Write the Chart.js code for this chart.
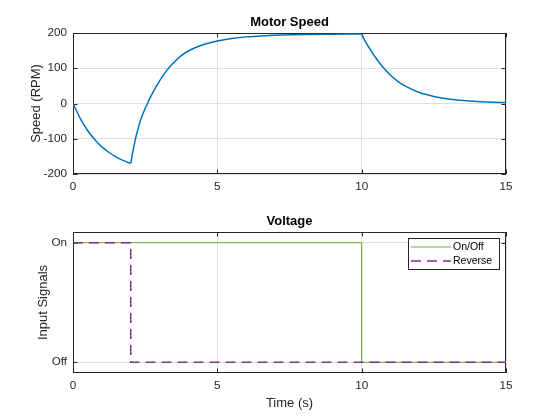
<!DOCTYPE html>
<html>
<head>
<meta charset="utf-8">
<script src="https://cdn.jsdelivr.net/npm/chart.js@4.4.0/dist/chart.umd.min.js"></script>
<style>
  html, body { margin: 0; padding: 0; background: #fff; }
  .panel { position: relative; width: 560px; height: 210px; }
</style>
</head>
<body>
<div class="panel"><canvas id="motorSpeed"></canvas></div>
<div class="panel"><canvas id="voltage"></canvas></div>
<script>
// motor speed (s, RPM)
const fallTime = [0, 0.25, 0.5, 0.75, 1, 1.25, 1.5, 1.75, 2];
const fallSpeed = [0, -42, -76, -102, -123, -139, -152, -162, -170];

const riseTime = [2, 2.1, 2.2, 2.35, 2.5, 2.75, 3, 3.25, 3.5, 3.75, 4, 4.25, 4.5, 4.75, 5, 5.5, 6, 6.5, 7, 8, 9, 10];
const riseSpeed = [-170, -125, -88, -45, -14, 29, 64, 94, 117, 136, 149, 159, 166.5, 172.5, 177.5, 184.5, 189, 191.5, 193.5, 195.5, 196.5, 197];

const decayTime = [10, 10.1, 10.25, 10.4, 10.5, 10.75, 11, 11.25, 11.5, 12, 12.5, 13, 13.5, 14, 14.5, 15];
const decaySpeed = [197, 180, 159, 140, 128.5, 102, 80, 63, 50, 31, 20, 13, 8.5, 5.5, 3.8, 2.8];

// input signals (stepped)
const onOffTime = [0, 10, 15];
const onOffLevel = [1, 0, 0];
const reverseTime = [0, 2, 15];
const reverseLevel = [1, 0, 0];

const xTicks = [0, 5, 10, 15];
const voltageTickValues = [0, 1];
const voltageTickLabels = ["Off", "On"];

const FONT = "'Liberation Sans', Arial, Helvetica, sans-serif";
const tickFont = { family: FONT, size: 11.7 };
const labelFont = { family: FONT, size: 13 };
const gridColor = "#dfdfdf";
const axisColor = "#262626";

function points(xs, ys) {
  return xs.map((x, i) => ({ x: x, y: ys[i] }));
}

// box, inward tick marks and bold title, like a matlab axes
const axesBox = {
  id: "axesBox",
  beforeDatasetsDraw(chart, args, opts) {
    const { ctx, chartArea: a, scales } = chart;
    const len = 4.5;
    ctx.save();
    ctx.strokeStyle = axisColor;
    ctx.lineWidth = 1;
    ctx.beginPath();
    scales.x.ticks.forEach(t => {
      const px = Math.round(scales.x.getPixelForValue(t.value)) + 0.5;
      ctx.moveTo(px, a.bottom); ctx.lineTo(px, a.bottom - len);
      ctx.moveTo(px, a.top); ctx.lineTo(px, a.top + len);
    });
    scales.y.ticks.forEach(t => {
      const py = Math.round(scales.y.getPixelForValue(t.value)) + 0.5;
      ctx.moveTo(a.left, py); ctx.lineTo(a.left + len, py);
      ctx.moveTo(a.right, py); ctx.lineTo(a.right - len, py);
    });
    ctx.stroke();
    ctx.strokeRect(Math.round(a.left) + 0.5, Math.round(a.top) + 0.5,
      Math.round(a.width) - 1, Math.round(a.height) - 1);

    ctx.fillStyle = "#000";
    ctx.font = "bold 13px " + FONT;
    ctx.textAlign = "center";
    ctx.textBaseline = "middle";
    ctx.fillText(opts.text, (a.left + a.right) / 2, a.top - 10.5);
    ctx.restore();
  }
};

// legend box in the top-right corner of the plot
const innerLegend = {
  id: "innerLegend",
  afterDatasetsDraw(chart) {
    const { ctx, chartArea: a } = chart;
    const right = a.right - 7, top = a.top + 6;
    const w = 91, h = 31;
    const left = right - w;
    ctx.save();
    ctx.fillStyle = "#fff";
    ctx.fillRect(left, top, w, h);
    ctx.strokeStyle = axisColor;
    ctx.lineWidth = 1;
    ctx.strokeRect(Math.round(left) + 0.5, Math.round(top) + 0.5, w, h);
    ctx.font = "10.5px " + FONT;
    ctx.textBaseline = "middle";
    ctx.textAlign = "left";
    chart.data.datasets.forEach((ds, i) => {
      const y = top + 9 + i * 14;
      ctx.beginPath();
      ctx.strokeStyle = ds.borderColor;
      ctx.lineWidth = ds.borderWidth;
      ctx.setLineDash(ds.borderDash || []);
      ctx.moveTo(left + 3, y);
      ctx.lineTo(left + 43, y);
      ctx.stroke();
      ctx.setLineDash([]);
      ctx.fillStyle = "#000";
      ctx.fillText(ds.label, left + 45, y);
    });
    ctx.restore();
  }
};

function xScale(height, withTitle) {
  return {
    type: "linear",
    min: 0,
    max: 15,
    afterFit: s => { s.height = height; },
    afterBuildTicks: s => { s.ticks = xTicks.map(v => ({ value: v })); },
    ticks: { padding: 6, color: axisColor, font: tickFont, maxRotation: 0 },
    grid: { color: gridColor, drawTicks: false },
    border: { display: false },
    title: {
      display: withTitle,
      text: "Time (s)",
      color: axisColor,
      font: labelFont,
      padding: { top: 0, bottom: 9 }
    }
  };
}

new Chart(document.getElementById("motorSpeed"), {
  type: "line",
  data: {
    datasets: [
      { data: points(fallTime, fallSpeed) },
      { data: points(riseTime, riseSpeed) },
      { data: points(decayTime, decaySpeed) }
    ].map(ds => ({
      ...ds,
      borderColor: "#0072BD",
      borderWidth: 1.5,
      pointRadius: 0,
      fill: false,
      cubicInterpolationMode: "monotone"
    }))
  },
  options: {
    responsive: true,
    maintainAspectRatio: false,
    animation: false,
    events: [],
    layout: { padding: { top: 33, right: 54, left: 0, bottom: 0 } },
    plugins: {
      legend: { display: false },
      tooltip: { enabled: false },
      axesBox: { text: "Motor Speed" }
    },
    scales: {
      x: xScale(36, false),
      y: {
        min: -200,
        max: 200,
        afterFit: s => { s.width = 73; },
        ticks: { stepSize: 100, padding: 6, color: axisColor, font: tickFont },
        grid: { color: gridColor, drawTicks: false },
        border: { display: false },
        title: {
          display: true,
          text: "Speed (RPM)",
          color: axisColor,
          font: labelFont,
          padding: { top: 29, bottom: 0 }
        }
      }
    }
  },
  plugins: [axesBox]
});

new Chart(document.getElementById("voltage"), {
  type: "line",
  data: {
    datasets: [
      {
        label: "On/Off",
        data: points(onOffTime, onOffLevel),
        borderColor: "#77AC30",
        borderWidth: 1.2,
        stepped: true,
        order: 2
      },
      {
        label: "Reverse",
        data: points(reverseTime, reverseLevel),
        borderColor: "#7E2F8E",
        borderWidth: 1.5,
        borderDash: [10, 6],
        stepped: true,
        order: 1
      }
    ].map(ds => ({ ...ds, pointRadius: 0, fill: false }))
  },
  options: {
    responsive: true,
    maintainAspectRatio: false,
    animation: false,
    events: [],
    layout: { padding: { top: 22, right: 54, left: 0, bottom: 0 } },
    plugins: {
      legend: { display: false },
      tooltip: { enabled: false },
      axesBox: { text: "Voltage" }
    },
    scales: {
      x: xScale(47, true),
      y: {
        min: -0.09,
        max: 1.09,
        afterFit: s => { s.width = 73; },
        afterBuildTicks: s => { s.ticks = voltageTickValues.map(v => ({ value: v })); },
        ticks: {
          padding: 6,
          color: axisColor,
          font: tickFont,
          callback: v => voltageTickLabels[voltageTickValues.indexOf(v)]
        },
        grid: { color: gridColor, drawTicks: false },
        border: { display: false },
        title: {
          display: true,
          text: "Input Signals",
          color: axisColor,
          font: labelFont,
          padding: { top: 36, bottom: 0 }
        }
      }
    }
  },
  plugins: [axesBox, innerLegend]
});
</script>
</body>
</html>
